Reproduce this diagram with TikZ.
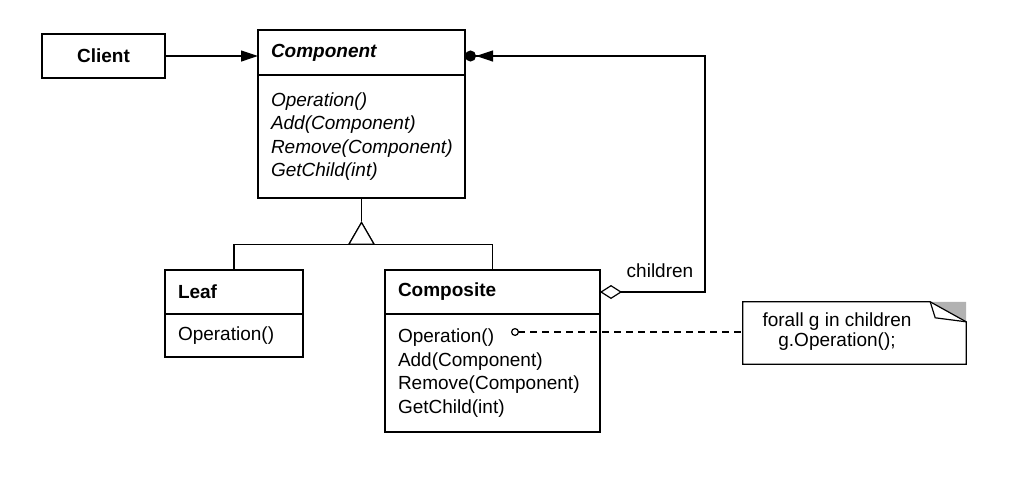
\documentclass[tikz,border=0pt]{standalone}
\usepackage{fontspec}
\setmainfont{Liberation Sans}
\usetikzlibrary{arrows.meta,shapes.geometric}

\newcommand{\umlfont}{\fontsize{19pt}{23.5pt}\selectfont}

\begin{document}
\begin{tikzpicture}[x=1pt, y=-1pt,
  every node/.style={font=\umlfont},
  uml/.style={draw, line width=1.3pt, anchor=north west, outer sep=0pt, inner xsep=13pt, inner ysep=0pt, align=left},
  line/.style={line width=1.2pt},
  assoc/.style={line, -{Triangle[length=17pt,width=11pt]}},
  aggr/.style={line, {Diamond[open,length=22pt,width=14pt]}-{Triangle[length=17pt,width=11pt,sep=0pt] Circle[length=11pt,sep=0pt]}},
  notelink/.style={line, dash pattern=on 7pt off 5pt, {Circle[open,length=8pt,width=8pt]}-},
  gentri/.style={draw, line width=1.2pt, fill=white, regular polygon, regular polygon sides=3, minimum size=29pt, inner sep=0pt}]
  \useasboundingbox (0,0) rectangle (1033,483);

  % client
  \node[uml, align=center, text width=97pt, minimum height=44pt, font={\umlfont\bfseries}] (client) at (42,34) {Client};

  % classe astratta
  \node[uml, text width=181pt, minimum height=45pt, font={\umlfont\bfseries\itshape}] (comp) at (258,30) {Component};
  \node[uml, text width=181pt, minimum height=123pt, font={\umlfont\itshape}] (compops) at (comp.south west)
    {Operation()\\Add(Component)\\Remove(Component)\\GetChild(int)};

  % foglia
  \node[uml, text width=112pt, minimum height=44pt, font={\umlfont\bfseries}] (leafname) at (165,270) {Leaf};
  \node[uml, text width=112pt, minimum height=43pt] (leafops) at (leafname.south west) {Operation()};

  % composite
  \node[uml, text width=189pt, minimum height=44pt, font={\umlfont\bfseries}] (compname) at (385,270) {Composite};
  \node[uml, text width=189pt, minimum height=118pt] (compnops) at (compname.south west)
    {Operation()\\Add(Component)\\Remove(Component)\\GetChild(int)};

  % ereditarieta
  \node[gentri] (gen) at (compops.south |- 0,237) {};
  \draw[line] (compops.south) -- (gen.corner 1);
  \draw[line] (leafname.north) |- (gen.side 2) -| (compname.north);
  \node[gentri] at (gen) {};

  % associazioni
  \draw[assoc] (client.east) -- (client.east -| comp.west);
  \coordinate (ret) at (705,56);
  \draw[aggr] (compname.east) -| (ret) -- (ret -| comp.east);
  \node (chlbl) at (660,271) {children};

  % nota
  \node[minimum width=223pt, minimum height=62pt, inner sep=0pt] (note) at (854.5,333) {};
  \fill[gray!60] ([xshift=-36pt]note.north east) -- (note.north east) -- ([yshift=-20pt]note.north east) -- cycle;
  \draw[line, line join=miter] (note.south west) -- (note.north west) -- ([xshift=-36pt]note.north east)
    -- ([yshift=-20pt]note.north east) -- (note.south east) -- cycle;
  \draw[line] ([xshift=-36pt]note.north east) -- ([xshift=-31pt,yshift=-16pt]note.north east) -- ([yshift=-20pt]note.north east);
  \node[align=center, font=\fontsize{19pt}{20pt}\selectfont] (notetxt) at (837,332) {forall g in children\\g.Operation();};
  \coordinate (opdot) at (511,332);
  \draw[notelink] (opdot) -- (opdot -| note.west);
\end{tikzpicture}
\end{document}
